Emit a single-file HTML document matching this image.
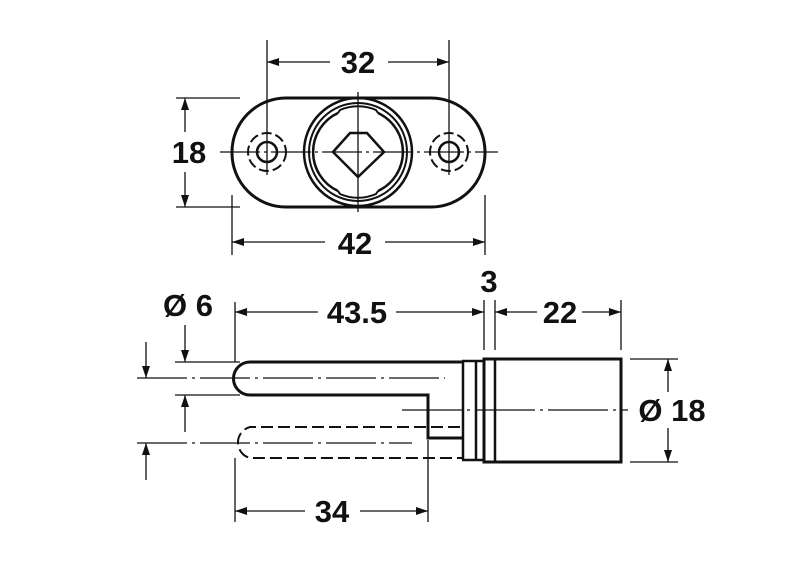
<!DOCTYPE html>
<html><head><meta charset="utf-8"><style>
html,body{margin:0;padding:0;background:#fff}
text{font-family:"Liberation Sans",Arial,sans-serif;font-weight:bold;font-size:31px;fill:#111}
</style></head><body>
<svg width="791" height="571" viewBox="0 0 791 571" xmlns="http://www.w3.org/2000/svg">
<defs>
<marker id="a" viewBox="0 0 12 8" refX="12" refY="4" markerWidth="13" markerHeight="8" markerUnits="userSpaceOnUse" orient="auto-start-reverse"><path d="M0,0 L12,4 L0,8 z" fill="#111"/></marker>
</defs>
<g stroke="#111" fill="none">
<rect x="232" y="98" width="253" height="109" rx="54" stroke-width="3"/>
<circle cx="267" cy="152" r="10" stroke-width="2.5"/>
<circle cx="449" cy="152" r="10" stroke-width="2.5"/>
<circle cx="267" cy="152" r="19" stroke-width="2" stroke-dasharray="10 4"/>
<circle cx="449" cy="152" r="19" stroke-width="2" stroke-dasharray="10 4"/>
<circle cx="358" cy="152" r="54" stroke-width="2.5"/>
<circle cx="358" cy="152" r="49" stroke-width="2"/>
<path d="M338,113 A43,43 0 0 0 338,191 M378,113 A43,43 0 0 1 378,191" stroke-width="2.5"/>
<path d="M338,113 L340,110 A45,45 0 0 1 376,110 L378,113" stroke-width="2"/>
<path d="M338,191 L340,194 A45,45 0 0 0 376,194 L378,191" stroke-width="2"/>
<path d="M350,133 L367,133 L384,152 L358,177 L333,152 Z" stroke-width="2.5"/>
<g stroke-width="1.3">
<line x1="220" y1="152" x2="498" y2="152" stroke-dasharray="40 4 3 4"/>
<line x1="358" y1="92" x2="358" y2="212"/>
<line x1="267" y1="40" x2="267" y2="175"/>
<line x1="449" y1="40" x2="449" y2="175"/>
<line x1="267" y1="62" x2="330" y2="62" marker-start="url(#a)"/>
<line x1="388" y1="62" x2="449" y2="62" marker-end="url(#a)"/>
<line x1="176" y1="98" x2="240" y2="98"/>
<line x1="176" y1="207" x2="240" y2="207"/>
<line x1="185" y1="98" x2="185" y2="132" marker-start="url(#a)"/>
<line x1="185" y1="172" x2="185" y2="207" marker-end="url(#a)"/>
<line x1="232" y1="195" x2="232" y2="255"/>
<line x1="485" y1="195" x2="485" y2="255"/>
<line x1="232" y1="242" x2="325" y2="242" marker-start="url(#a)"/>
<line x1="385" y1="242" x2="485" y2="242" marker-end="url(#a)"/>
</g>
<path d="M428,362 L250,362 A16.5,16.5 0 0 0 250,395 L428,395 L428,438 L463,438" stroke-width="3"/>
<line x1="428" y1="362" x2="463" y2="362" stroke-width="3"/>
<path d="M463,361 L463,460 M462,361 L484,361 M462,460 L484,460 M476,361 L476,460" stroke-width="2.5"/>
<rect x="484" y="359" width="137" height="103" stroke-width="3"/>
<line x1="495" y1="359" x2="495" y2="462" stroke-width="2.5"/>
<path d="M460,427 L250,427 A16,16 0 0 0 250,458 L462,458" stroke-width="2" stroke-dasharray="12 5"/>
<g stroke-width="1.3">
<line x1="137" y1="378" x2="445" y2="378" stroke-dasharray="50 5 3 5"/>
<line x1="137" y1="443" x2="412" y2="443" stroke-dasharray="50 5 3 5"/>
<line x1="402" y1="410" x2="628" y2="410" stroke-dasharray="60 5 3 5"/>
<line x1="175" y1="362" x2="240" y2="362"/>
<line x1="175" y1="395" x2="240" y2="395"/>
<line x1="185" y1="325" x2="185" y2="362" marker-end="url(#a)"/>
<line x1="185" y1="432" x2="185" y2="395" marker-end="url(#a)"/>
<line x1="146" y1="342" x2="146" y2="378" marker-end="url(#a)"/>
<line x1="146" y1="480" x2="146" y2="443" marker-end="url(#a)"/>
<line x1="235" y1="302" x2="235" y2="362"/>
<line x1="235" y1="458" x2="235" y2="522"/>
<line x1="428" y1="440" x2="428" y2="522"/>
<line x1="484" y1="300" x2="484" y2="350"/>
<line x1="495" y1="300" x2="495" y2="350"/>
<line x1="621" y1="300" x2="621" y2="350"/>
<line x1="235" y1="312" x2="318" y2="312" marker-start="url(#a)"/>
<line x1="396" y1="312" x2="484" y2="312" marker-end="url(#a)"/>
<line x1="495" y1="312" x2="537" y2="312" marker-start="url(#a)"/>
<line x1="582" y1="312" x2="621" y2="312" marker-end="url(#a)"/>
<line x1="630" y1="359" x2="678" y2="359"/>
<line x1="630" y1="462" x2="678" y2="462"/>
<line x1="668" y1="359" x2="668" y2="392" marker-start="url(#a)"/>
<line x1="668" y1="428" x2="668" y2="462" marker-end="url(#a)"/>
<line x1="235" y1="511" x2="305" y2="511" marker-start="url(#a)"/>
<line x1="360" y1="511" x2="428" y2="511" marker-end="url(#a)"/>
</g>
</g>
<text x="358" y="73" text-anchor="middle">32</text>
<text x="189" y="163" text-anchor="middle">18</text>
<text x="355" y="254" text-anchor="middle">42</text>
<text x="188" y="316" text-anchor="middle">Ø 6</text>
<text x="357" y="323" text-anchor="middle">43.5</text>
<text x="489" y="292" text-anchor="middle">3</text>
<text x="560" y="323" text-anchor="middle">22</text>
<text x="672" y="421" text-anchor="middle">Ø 18</text>
<text x="332" y="522" text-anchor="middle">34</text>
</svg>
</body></html>
